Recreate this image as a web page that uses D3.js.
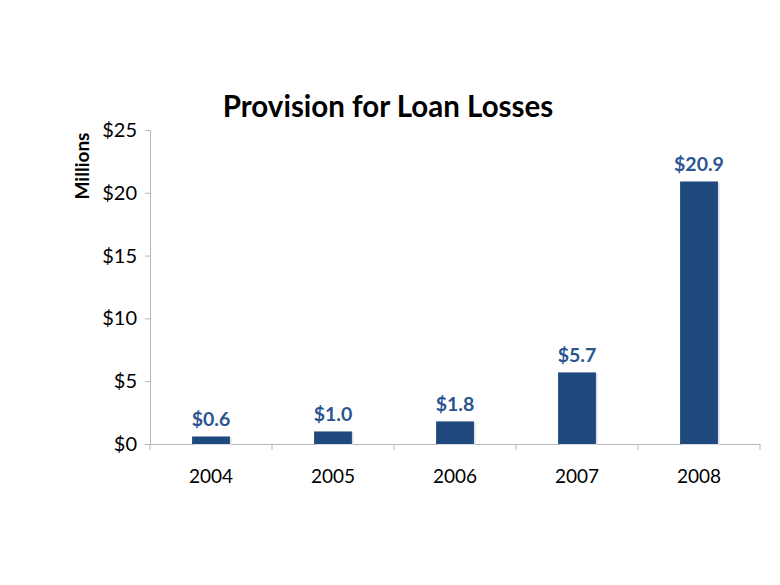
<!DOCTYPE html>
<html><head><meta charset="utf-8">
<script src="https://cdn.jsdelivr.net/npm/d3@7"></script>
<style>body{margin:0;background:#fff;}svg{display:block;}</style>
</head><body>
<script>
const categories = ["2004","2005","2006","2007","2008"];
const values = [0.6, 1.0, 1.8, 5.7, 20.9];
const labels = ["$0.6","$1.0","$1.8","$5.7","$20.9"];
const yTicks = [0,5,10,15,20,25];

const W = 780, H = 585;
const font = "Lato, 'Open Sans', sans-serif";
const svg = d3.select("body").append("svg").attr("width",W).attr("height",H);
const x = d3.scaleBand().domain(categories).range([150,760]).paddingInner(0.69).paddingOuter(0.345);
const xb = d3.scaleBand().domain(categories).range([150,760]);
const y = d3.scaleLinear().domain([0,25]).range([444,130]);
const axisColor = "#b7b7b7";

// y axis
const ya = svg.append("g").attr("transform","translate(150,0)")
  .call(d3.axisLeft(y).tickValues(yTicks).tickSize(5).tickPadding(8).tickFormat(d=>"$"+d));
ya.select(".domain").attr("stroke",axisColor);
ya.selectAll(".tick line").attr("stroke",axisColor);
ya.selectAll("text").attr("font-family",font).attr("font-size",20).attr("fill","#000");

// x axis
const xa = svg.append("g").attr("transform","translate(0,444)")
  .call(d3.axisBottom(xb).tickSize(0).tickPadding(26));
xa.select(".domain").attr("stroke",axisColor);
xa.selectAll("text").attr("font-family",font).attr("font-size",19).attr("fill","#000");
// x tick marks at category boundaries
const bounds = categories.map(c=>xb(c)).concat([xb.range()[1]]);
svg.append("g").selectAll("line").data(bounds).join("line")
  .attr("x1",d=>d).attr("x2",d=>d).attr("y1",444).attr("y2",450)
  .attr("stroke",axisColor);

// shadows
svg.append("g").selectAll("rect").data(values).join("rect")
  .attr("x",(d,i)=>x(categories[i])+1.5).attr("width",x.bandwidth())
  .attr("y",d=>y(d)+1).attr("height",d=>444-y(d))
  .attr("fill","#d4dbe6");
// bars
svg.append("g").selectAll("rect").data(values).join("rect")
  .attr("x",(d,i)=>x(categories[i])).attr("width",x.bandwidth())
  .attr("y",d=>y(d)).attr("height",d=>444-y(d))
  .attr("fill","#1f487c");

// value labels
svg.append("g").selectAll("text").data(values).join("text")
  .attr("x",(d,i)=>x(categories[i])+x.bandwidth()/2)
  .attr("y",d=>y(d)-10)
  .attr("text-anchor","middle").attr("font-family",font).attr("font-weight","bold")
  .attr("font-size",19.5).attr("fill","#2a5590")
  .text((d,i)=>labels[i]);

// title
svg.append("text").attr("x",388).attr("y",117).attr("text-anchor","middle")
  .attr("font-family",font).attr("font-weight","bold").attr("font-size",29.5).attr("fill","#000")
  .text("Provision for Loan Losses");

// y label
svg.append("text").attr("transform","translate(89,166) rotate(-90)").attr("text-anchor","middle")
  .attr("font-family",font).attr("font-weight","bold").attr("font-size",19).attr("fill","#000")
  .text("Millions");
</script>
</body></html>
